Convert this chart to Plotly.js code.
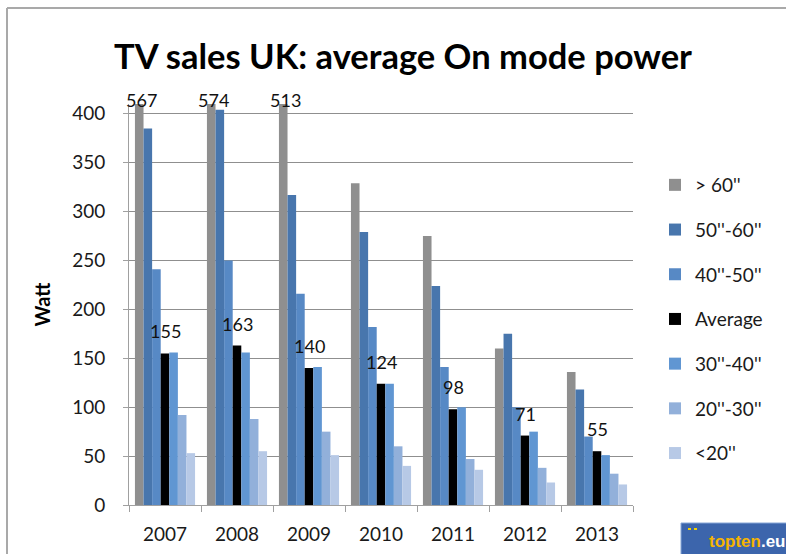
<!DOCTYPE html>
<html>
<head>
<meta charset="utf-8">
<script src="https://cdn.plot.ly/plotly-3.0.1.min.js"></script>
<style>html,body{margin:0;padding:0;background:#fff;}#chart{width:786px;height:554px;}</style>
</head>
<body>
<div id="chart"></div>
<script>
// ---- data ----
const years = ["2007", "2008", "2009", "2010", "2011", "2012", "2013"];
const seriesNames = ["> 60''", "50''-60''", "40''-50''", "Average", "30''-40''", "20''-30''", "<20''"];
const over60   = [567, 574, 513, 329, 275, 160, 136];
const s50to60  = [385, 404, 317, 279, 224, 175, 118];
const s40to50  = [241, 250, 216, 182, 141, 100, 70];
const average  = [155, 163, 140, 124, 98, 71, 55];
const s30to40  = [156, 156, 141, 124, 100, 75, 51];
const s20to30  = [92, 88, 75, 60, 47, 38, 32];
const under20  = [53, 55, 51, 40, 36, 23, 21];
const yTicks = [0, 50, 100, 150, 200, 250, 300, 350, 400];

// ---- styles ----
const colors = ["#8f8f8f", "#4876ad", "#5789c5", "#000000", "#6096d2", "#92b0da", "#b7c9e6"];
const values = [over60, s50to60, s40to50, average, s30to40, s20to30, under20];
const yMax = 410;
const FONT = "Lato, 'Open Sans', sans-serif";
const W = 786, H = 554;
const M = {l: 129, r: 153, t: 104, b: 49};
const plotW = W - M.l - M.r, plotH = H - M.t - M.b;
const px2x = p => (p - M.l) / plotW;
const px2y = p => (H - M.b - p) / plotH;
const bargap = 0.165;
const barW = plotW / years.length * (1 - bargap) / seriesNames.length;

const traces = seriesNames.map((n, i) => ({
  type: "bar",
  name: n,
  x: years,
  y: values[i],
  marker: {color: colors[i]},
  legendgroup: "g" + i,
  hoverinfo: "name+y"
}));

const annotations = [];
average.forEach((v, i) => {
  annotations.push({x: i, y: v, xref: "x", yref: "y", text: String(v), showarrow: false,
    yshift: 22, yanchor: "middle", font: {family: FONT, size: 18, color: "#111"}});
});
over60.forEach((v, i) => {
  if (v > yMax) {
    annotations.push({x: i, y: yMax, xref: "x", yref: "y", text: String(v), showarrow: false,
      xshift: -3 * barW + 2, yshift: 4, yanchor: "middle", font: {family: FONT, size: 18, color: "#111"}});
  }
});
// logo text
annotations.push({xref: "paper", yref: "paper", x: px2x(707), y: px2y(541), xanchor: "left", yanchor: "middle",
  showarrow: false, text: "<b><span style='color:#f6b400'>topten</span><span style='color:#ffffff'>.eu</span></b>",
  font: {family: "'Liberation Sans', Arial, sans-serif", size: 17}});

const shapes = [
  // chart frame
  {type: "line", xref: "paper", yref: "paper", x0: px2x(7), x1: px2x(790), y0: px2y(8), y1: px2y(8), line: {color: "#a9a9a9", width: 2}},
  {type: "line", xref: "paper", yref: "paper", x0: px2x(7), x1: px2x(7), y0: px2y(8), y1: px2y(560), line: {color: "#a9a9a9", width: 2}},
  // logo box
  {type: "rect", xref: "paper", yref: "paper", x0: px2x(681), x1: px2x(800), y0: px2y(523), y1: px2y(560),
    fillcolor: "#3c65ac", line: {color: "#86a6d6", width: 1}},
  {type: "line", xref: "paper", yref: "paper", x0: px2x(688), x1: px2x(698), y0: px2y(529), y1: px2y(529),
    line: {color: "#f6d200", width: 2, dash: "dot"}}
];

const layout = {
  width: W, height: H,
  margin: M,
  paper_bgcolor: "#ffffff",
  plot_bgcolor: "#ffffff",
  barmode: "group",
  bargap: bargap,
  bargroupgap: 0,
  title: {
    text: "<b>TV sales UK: average On mode power</b>",
    x: 403 / W, xref: "container", xanchor: "center",
    y: 1 - 57 / H, yref: "container", yanchor: "middle",
    font: {family: FONT, size: 34.5, color: "#000"}
  },
  xaxis: {
    type: "category",
    range: [-0.5, years.length - 0.5],
    autorange: false,
    showline: true, linecolor: "#a0a0a0", linewidth: 1,
    ticks: "outside", ticklen: 6, tickcolor: "#a0a0a0", tickson: "boundaries",
    ticklabelstandoff: 12,
    tickfont: {family: FONT, size: 19, color: "#1a1a1a"},
    showgrid: false
  },
  yaxis: {
    range: [0, yMax],
    autorange: false,
    tickvals: yTicks,
    showline: true, linecolor: "#a0a0a0", linewidth: 1,
    ticks: "outside", ticklen: 5, tickcolor: "#a0a0a0",
    ticklabelstandoff: 14,
    showgrid: true, gridcolor: "#8f8f8f", gridwidth: 1,
    zeroline: false,
    tickfont: {family: FONT, size: 19, color: "#1a1a1a"},
    title: {text: "<b>Watt</b>", font: {family: FONT, size: 20, color: "#000"}, standoff: 16}
  },
  legend: {
    x: px2x(655), xanchor: "left",
    y: px2y(166), yanchor: "top",
    font: {family: FONT, size: 19, color: "#1a1a1a"},
    tracegroupgap: 17,
    bgcolor: "rgba(0,0,0,0)"
  },
  showlegend: true,
  annotations: annotations,
  shapes: shapes
};

Plotly.newPlot("chart", traces, layout, {displayModeBar: false, staticPlot: true});
</script>
</body>
</html>
